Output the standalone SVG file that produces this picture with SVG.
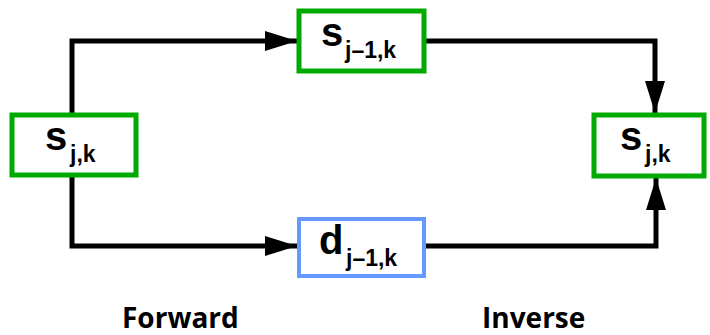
<svg xmlns="http://www.w3.org/2000/svg" width="710" height="335" viewBox="0 0 710 335">
<defs>
<marker id="ah" markerWidth="32" markerHeight="20" refX="32" refY="10" orient="auto" markerUnits="userSpaceOnUse">
<path d="M0,0 L32,10 L0,20 Z" fill="#000"/>
</marker>
<style>
.g{fill:#fff;stroke:#00AA00;stroke-width:5}
.b{fill:#fff;stroke:#6699FF;stroke-width:4}
.c{fill:none;stroke:#000;stroke-width:5}
.m{font-family:"Liberation Sans",Arial,sans-serif;font-weight:bold;fill:#000}
.big{font-size:40px}
.sub{font-size:23px}
.lab{font-family:"Open Sans","DejaVu Sans",sans-serif;font-weight:bold;font-size:28px;fill:#000}
</style>
</defs>
<g id="connectors">
<path class="c" d="M72,115 V41 H297" marker-end="url(#ah)"/>
<path class="c" d="M426,41 H655 V113" marker-end="url(#ah)"/>
<path class="c" d="M72,175 V246 H297" marker-end="url(#ah)"/>
<path class="c" d="M426,246 H656 V178" marker-end="url(#ah)"/>
</g>
<g id="s_left">
<rect class="g" x="12" y="115" width="124" height="60"/>
<text class="m" x="45" y="150"><tspan class="big">s</tspan><tspan class="sub" x="70" y="162">j,k</tspan></text>
</g>
<g id="s_top">
<rect class="g" x="299" y="11" width="125" height="60"/>
<text class="m" x="321" y="46"><tspan class="big">s</tspan><tspan class="sub" x="345" y="58">j–1,k</tspan></text>
</g>
<g id="d_bottom">
<rect class="b" x="299" y="219" width="125" height="57"/>
<text class="m" x="319" y="254"><tspan class="big">d</tspan><tspan class="sub" x="346" y="266">j–1,k</tspan></text>
</g>
<g id="s_right">
<rect class="g" x="594" y="115" width="110" height="61"/>
<text class="m" x="620" y="150"><tspan class="big">s</tspan><tspan class="sub" x="645" y="162">j,k</tspan></text>
</g>
<text class="lab" x="122" y="328">Forward</text>
<text class="lab" x="482" y="328">Inverse</text>
</svg>
